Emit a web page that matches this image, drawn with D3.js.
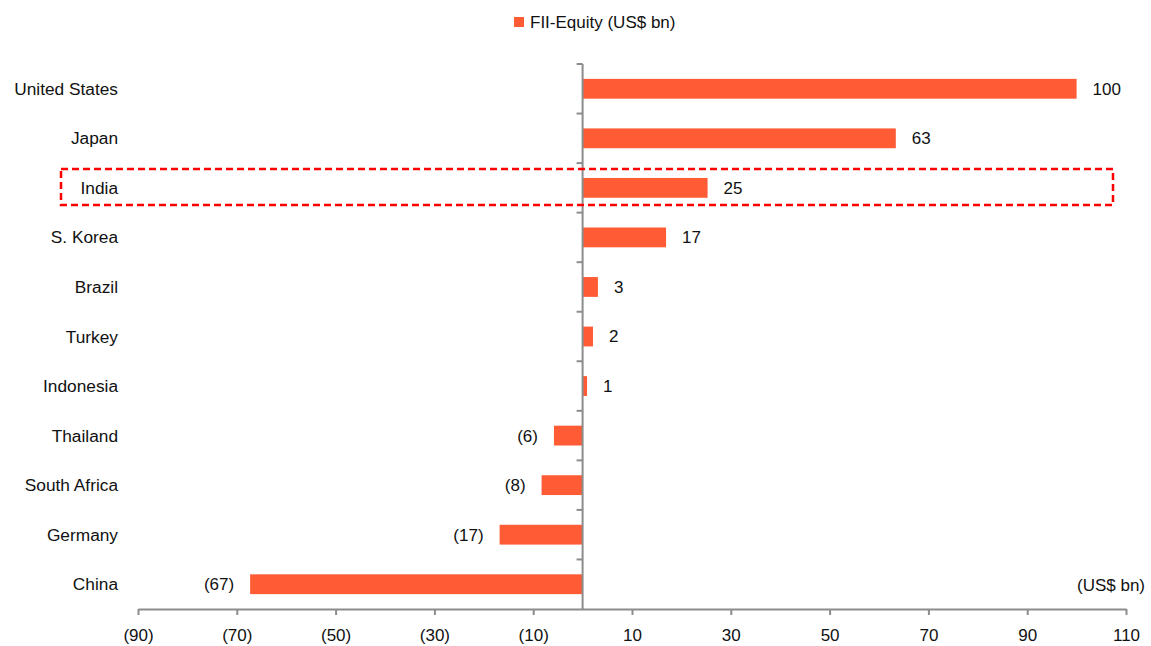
<!DOCTYPE html>
<html>
<head>
<meta charset="utf-8">
<script src="https://cdn.jsdelivr.net/npm/d3@7/dist/d3.min.js"></script>
<style>
  body { margin: 0; background: #fff; }
  svg text { font-family: "Liberation Sans", Arial, sans-serif; fill: #111; }
</style>
</head>
<body>
<div id="canvas"></div>
<script>
// chart data
const countries = ["United States", "Japan", "India", "S. Korea", "Brazil", "Turkey",
                   "Indonesia", "Thailand", "South Africa", "Germany", "China"];
const fiiEquity = [100, 63.4, 25.3, 16.9, 3.1, 2.1, 0.9, -5.8, -8.3, -16.8, -67.3];
const xTicks = [-90, -70, -50, -30, -10, 10, 30, 50, 70, 90, 110];
const seriesName = "FII-Equity (US$ bn)";
const unitLabel = "(US$ bn)";
const highlighted = "India";

const width = 1151;
const height = 646;
const barColor = "#ff5b35";
const axisColor = "#8c8c8c";

const svg = d3.select("#canvas").append("svg")
    .attr("width", width)
    .attr("height", height);

const x = d3.scaleLinear()
    .domain([-90, 110])
    .range([138, 1126]);

const y = d3.scaleBand()
    .domain(countries)
    .range([64, 609])
    .paddingInner(0.6)
    .paddingOuter(0.3);

const fmt = v => v < 0 ? "(" + Math.abs(Math.round(v)) + ")" : String(Math.round(v));

// bars
svg.selectAll("rect.bar")
    .data(countries)
    .enter().append("rect")
    .attr("class", "bar")
    .attr("x", (d, i) => x(Math.min(0, fiiEquity[i])))
    .attr("y", d => y(d))
    .attr("width", (d, i) => Math.abs(x(fiiEquity[i]) - x(0)))
    .attr("height", y.bandwidth())
    .style("fill", barColor);

// value labels
svg.selectAll("text.val")
    .data(countries)
    .enter().append("text")
    .attr("class", "val")
    .attr("x", (d, i) => fiiEquity[i] < 0 ? x(fiiEquity[i]) - 16 : x(fiiEquity[i]) + 16)
    .attr("y", d => y(d) + y.bandwidth() / 2)
    .attr("dy", "0.35em")
    .attr("text-anchor", (d, i) => fiiEquity[i] < 0 ? "end" : "start")
    .style("font-size", "17px")
    .text((d, i) => fmt(fiiEquity[i]));

// category labels
svg.selectAll("text.cat")
    .data(countries)
    .enter().append("text")
    .attr("class", "cat")
    .attr("x", 118)
    .attr("y", d => y(d) + y.bandwidth() / 2)
    .attr("dy", "0.35em")
    .attr("text-anchor", "end")
    .style("font-size", "17.3px")
    .text(d => d);

// x axis
const xAxis = svg.append("g")
    .attr("transform", "translate(0,609)")
    .call(d3.axisBottom(x).tickValues(xTicks).tickSize(6).tickSizeOuter(0).tickPadding(14).tickFormat(fmt));
xAxis.select(".domain").attr("stroke", axisColor).attr("stroke-width", 2);
xAxis.selectAll(".tick line").attr("stroke", axisColor).attr("stroke-width", 2);
xAxis.selectAll(".tick text")
    .style("font-size", "17px")
    .style("font-family", "'Liberation Sans', Arial, sans-serif")
    .attr("fill", "#111");

// vertical axis at zero with category boundary ticks
const bounds = d3.range(countries.length + 1).map(i => 64 + i * (545 / countries.length));
const yAxis = svg.append("g");
yAxis.append("line")
    .attr("x1", x(0)).attr("x2", x(0))
    .attr("y1", bounds[0]).attr("y2", 609)
    .attr("stroke", axisColor).attr("stroke-width", 2);
yAxis.selectAll("line.tk")
    .data(bounds.slice(0, -1))
    .enter().append("line")
    .attr("class", "tk")
    .attr("x1", x(0) - 6).attr("x2", x(0))
    .attr("y1", d => d).attr("y2", d => d)
    .attr("stroke", axisColor).attr("stroke-width", 2);

// highlight box around India
const yi = y(highlighted);
svg.append("rect")
    .attr("x", 61)
    .attr("y", yi - 9)
    .attr("width", 1052)
    .attr("height", 36)
    .attr("fill", "none")
    .attr("stroke", "#ff0000")
    .attr("stroke-width", 2.5)
    .attr("stroke-dasharray", "7,4");

// legend
const legend = svg.append("g").attr("transform", "translate(514,17)");
legend.append("rect").attr("width", 10).attr("height", 10).style("fill", barColor);
legend.append("text")
    .attr("x", 16).attr("y", 5).attr("dy", "0.35em")
    .style("font-size", "17px")
    .text(seriesName);

// unit label
svg.append("text")
    .attr("x", 1145).attr("y", 585).attr("dy", "0.35em")
    .attr("text-anchor", "end")
    .style("font-size", "17px")
    .text(unitLabel);
</script>
</body>
</html>
